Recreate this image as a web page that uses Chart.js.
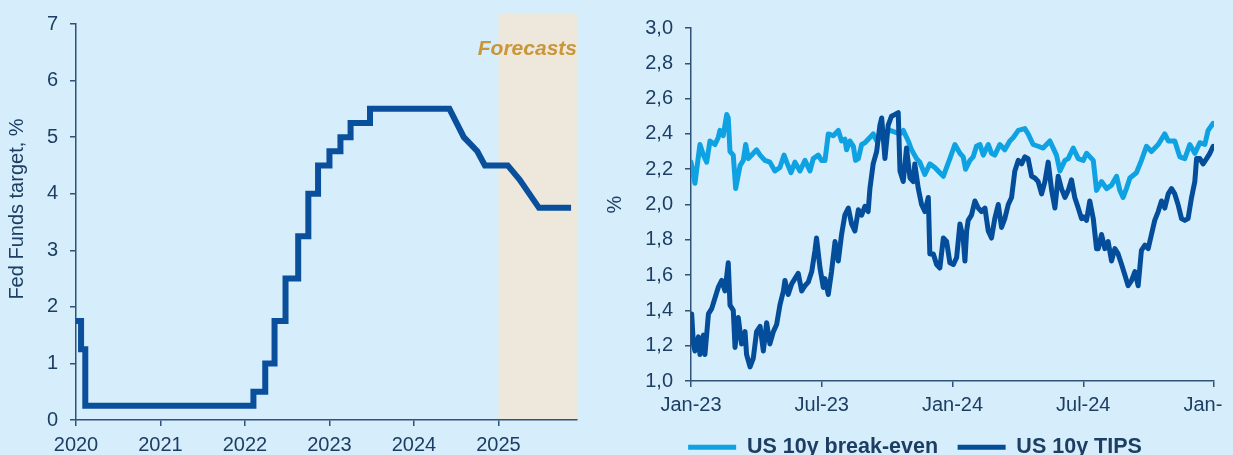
<!DOCTYPE html>
<html>
<head>
<meta charset="utf-8">
<script src="https://cdn.jsdelivr.net/npm/chart.js@4"></script>
<style>
    html, body { margin: 0; padding: 0; background: #d6edfc; overflow: hidden; width: 1233px; height: 455px; }
    #left { position: absolute; left: 0; top: 0; }
    #right { position: absolute; left: 600px; top: 0; }
</style>
</head>
<body>
<canvas id="left" width="600" height="455"></canvas>
<canvas id="right" width="622" height="468"></canvas>
<script>
// left panel: Fed Funds target (upper bound), with forecasts
const fedYears = [2020.0, 2020.06, 2020.06, 2020.11, 2020.11, 2022.10, 2022.10, 2022.24, 2022.24, 2022.35, 2022.35,
    2022.48, 2022.48, 2022.63, 2022.63, 2022.75, 2022.75, 2022.865, 2022.865, 2023.0, 2023.0, 2023.13, 2023.13,
    2023.25, 2023.25, 2023.48, 2023.48, 2024.42, 2024.59, 2024.75, 2024.84, 2025.11, 2025.25, 2025.48, 2025.86];
const fedRate = [1.75, 1.75, 1.25, 1.25, 0.25, 0.25, 0.5, 0.5, 1.0, 1.0, 1.75,
    1.75, 2.5, 2.5, 3.25, 3.25, 4.0, 4.0, 4.5, 4.5, 4.75, 4.75, 5.0,
    5.0, 5.25, 5.25, 5.5, 5.5, 5.0, 4.75, 4.5, 4.5, 4.25, 3.75, 3.75];
const forecastStart = 2025;
const leftYears = [2020, 2025.93];

// right panel: months since Jan-23, with the value read at each one
const breakEvenMonths = [0.00, 0.18, 0.41, 0.57, 0.72, 0.87, 1.10, 1.25, 1.33, 1.48, 1.64, 1.71, 1.79, 1.94, 2.05, 2.25,
    2.40, 2.51, 2.63, 2.86, 3.01, 3.17, 3.39, 3.62, 3.85, 4.08, 4.27, 4.39, 4.59, 4.77, 5.00, 5.23,
    5.46, 5.61, 5.84, 5.99, 6.15, 6.30, 6.53, 6.76, 6.91, 7.06, 7.14, 7.29, 7.45, 7.55, 7.68, 7.83,
    7.98, 8.21, 8.36, 8.52, 8.67, 8.90, 9.13, 9.36, 9.59, 9.74, 9.97, 10.12, 10.35, 10.50, 10.73, 10.96,
    11.19, 11.42, 11.58, 11.73, 11.88, 12.11, 12.34, 12.49, 12.60, 12.80, 12.95, 13.10, 13.26, 13.41, 13.64, 13.79,
    13.94, 14.17, 14.40, 14.63, 14.79, 15.02, 15.32, 15.47, 15.70, 15.93, 16.16, 16.47, 16.77, 16.93, 17.16, 17.31,
    17.54, 17.77, 18.00, 18.15, 18.46, 18.61, 18.84, 19.07, 19.30, 19.53, 19.68, 19.83, 19.98, 20.14, 20.44, 20.67,
    20.90, 21.13, 21.44, 21.74, 21.90, 22.20, 22.43, 22.66, 22.89, 23.12, 23.35, 23.58, 23.73, 23.96];
const breakEven = [2.24, 2.12, 2.34, 2.28, 2.24, 2.36, 2.34, 2.38, 2.42, 2.39, 2.51, 2.49, 2.30, 2.28, 2.09, 2.22,
    2.25, 2.34, 2.26, 2.29, 2.31, 2.28, 2.25, 2.24, 2.19, 2.21, 2.28, 2.24, 2.18, 2.24, 2.19, 2.25,
    2.19, 2.26, 2.28, 2.25, 2.25, 2.40, 2.39, 2.42, 2.36, 2.37, 2.31, 2.36, 2.33, 2.25, 2.26, 2.34,
    2.35, 2.38, 2.40, 2.36, 2.38, 2.41, 2.42, 2.41, 2.40, 2.42, 2.36, 2.31, 2.26, 2.24, 2.17, 2.23,
    2.21, 2.18, 2.16, 2.21, 2.26, 2.34, 2.29, 2.27, 2.20, 2.25, 2.27, 2.33, 2.34, 2.28, 2.34, 2.29,
    2.28, 2.34, 2.31, 2.36, 2.38, 2.42, 2.43, 2.40, 2.34, 2.33, 2.32, 2.36, 2.28, 2.19, 2.25, 2.26,
    2.32, 2.26, 2.25, 2.29, 2.25, 2.08, 2.13, 2.09, 2.11, 2.16, 2.08, 2.04, 2.09, 2.15, 2.18, 2.25,
    2.33, 2.30, 2.34, 2.40, 2.36, 2.36, 2.27, 2.26, 2.34, 2.29, 2.35, 2.34, 2.42, 2.46];
const tipsMonths = [0.03, 0.11, 0.18, 0.34, 0.41, 0.57, 0.64, 0.80, 0.95, 1.10, 1.25, 1.41, 1.56, 1.71, 1.79, 1.94,
    2.02, 2.17, 2.32, 2.48, 2.55, 2.71, 2.86, 3.01, 3.17, 3.32, 3.47, 3.62, 3.78, 3.93, 4.08, 4.24,
    4.31, 4.46, 4.62, 4.77, 4.92, 5.08, 5.23, 5.38, 5.54, 5.69, 5.76, 5.92, 6.07, 6.15, 6.30, 6.45,
    6.61, 6.76, 6.91, 7.06, 7.22, 7.37, 7.52, 7.68, 7.83, 7.98, 8.13, 8.21, 8.36, 8.52, 8.67, 8.75,
    8.90, 9.05, 9.20, 9.36, 9.51, 9.59, 9.74, 9.89, 10.05, 10.20, 10.27, 10.43, 10.58, 10.73, 10.89, 10.96,
    11.12, 11.27, 11.42, 11.58, 11.73, 11.88, 12.04, 12.19, 12.34, 12.49, 12.57, 12.65, 12.72, 12.87, 13.03, 13.18,
    13.33, 13.49, 13.64, 13.79, 13.94, 14.10, 14.25, 14.40, 14.56, 14.71, 14.86, 15.02, 15.17, 15.32, 15.47, 15.63,
    15.78, 15.93, 16.09, 16.24, 16.39, 16.55, 16.70, 16.85, 17.00, 17.16, 17.31, 17.46, 17.61, 17.77, 17.92, 18.00,
    18.15, 18.30, 18.46, 18.61, 18.69, 18.84, 18.99, 19.14, 19.30, 19.45, 19.60, 19.76, 19.91, 20.06, 20.22, 20.37,
    20.52, 20.67, 20.83, 20.98, 21.13, 21.28, 21.44, 21.59, 21.74, 21.90, 22.05, 22.20, 22.35, 22.51, 22.66, 22.81,
    22.97, 23.12, 23.20, 23.35, 23.50, 23.66, 23.81, 23.96];
const tips = [1.38, 1.21, 1.17, 1.25, 1.15, 1.26, 1.15, 1.38, 1.41, 1.47, 1.53, 1.57, 1.51, 1.67, 1.43, 1.40,
    1.19, 1.36, 1.21, 1.28, 1.15, 1.08, 1.13, 1.28, 1.31, 1.17, 1.33, 1.21, 1.28, 1.32, 1.43, 1.51,
    1.57, 1.49, 1.55, 1.58, 1.61, 1.51, 1.54, 1.56, 1.62, 1.74, 1.81, 1.64, 1.53, 1.58, 1.49, 1.62,
    1.79, 1.68, 1.83, 1.94, 1.98, 1.89, 1.85, 1.97, 1.94, 1.99, 1.96, 2.09, 2.23, 2.30, 2.45, 2.49,
    2.26, 2.45, 2.50, 2.51, 2.52, 2.19, 2.13, 2.32, 2.15, 2.13, 2.23, 2.09, 2.00, 1.96, 2.04, 1.72,
    1.72, 1.66, 1.64, 1.81, 1.79, 1.67, 1.66, 1.70, 1.89, 1.81, 1.68, 1.85, 1.91, 1.94, 2.02, 1.98,
    1.96, 1.98, 1.85, 1.81, 1.92, 2.00, 1.87, 1.92, 2.00, 2.04, 2.19, 2.25, 2.23, 2.27, 2.26, 2.16,
    2.15, 2.13, 2.06, 2.13, 2.24, 2.08, 1.98, 2.16, 2.09, 2.04, 2.08, 2.14, 2.04, 1.98, 1.92, 1.93,
    1.91, 2.02, 1.92, 1.75, 1.75, 1.83, 1.75, 1.79, 1.68, 1.75, 1.72, 1.66, 1.60, 1.54, 1.57, 1.62,
    1.54, 1.74, 1.77, 1.75, 1.83, 1.91, 1.96, 2.02, 1.98, 2.06, 2.09, 2.06, 2.00, 1.92, 1.91, 1.92,
    2.04, 2.13, 2.26, 2.26, 2.23, 2.26, 2.29, 2.33];
const rightTickLabels = ['Jan-23', 'Jul-23', 'Jan-24', 'Jul-24', 'Jan-25'];

const textColor = '#1d3e63';
const axisColor = '#2f5278';
const tickFont = { family: 'Liberation Sans, Arial, sans-serif', size: 20 };

window.onload = () => {

    // shaded forecast area and label, drawn under the axes
    const forecastShade = {
        id: 'forecastShade',
        beforeDraw(chart) {
            const { ctx, scales: { x, y } } = chart;
            const x0 = x.getPixelForValue(forecastStart);
            const x1 = x.getPixelForValue(x.max);
            const y0 = y.getPixelForValue(7.18);
            const y1 = y.getPixelForValue(0);
            ctx.save();
            ctx.fillStyle = '#eee8dc';
            ctx.fillRect(x0, y0, x1 - x0, y1 - y0);
            ctx.fillStyle = '#c9963a';
            ctx.font = 'italic bold 21px Liberation Sans, Arial, sans-serif';
            ctx.textAlign = 'right';
            ctx.textBaseline = 'alphabetic';
            ctx.fillText('Forecasts', x1, y.getPixelForValue(6.45));
            ctx.restore();
        }
    };

    // y title of the left panel sits a bit above the middle
    const leftTitle = {
        id: 'leftTitle',
        afterDraw(chart) {
            const { ctx, chartArea } = chart;
            ctx.save();
            ctx.translate(17, (chartArea.top + chartArea.bottom) / 2 - 13);
            ctx.rotate(-Math.PI / 2);
            ctx.fillStyle = textColor;
            ctx.font = '20px Liberation Sans, Arial, sans-serif';
            ctx.textAlign = 'center';
            ctx.textBaseline = 'middle';
            ctx.fillText('Fed Funds target, %', 0, 0);
            ctx.restore();
        }
    };

    // the legend of the right panel sits a little right of centre
    const legendNudge = {
        id: 'legendNudge',
        afterLayout(chart) {
            chart.legend.left += 8;
            chart.legend.right += 8;
        }
    };

    let leftCanvas = document.getElementById('left');
    let fedChart = new Chart(leftCanvas, {
        type: 'line',
        data: {
            datasets: [
                {
                    data: fedYears.map((yr, i) => ({ x: yr, y: fedRate[i] })),
                    borderColor: '#0a4f9c',
                    borderWidth: 6,
                    pointRadius: 0,
                    borderJoinStyle: 'miter',
                    tension: 0,
                }
            ],
        },
        options: {
            responsive: false,
            animation: false,
            layout: { padding: { top: 22, right: 23, bottom: 0, left: 0 } },
            plugins: { legend: { display: false }, tooltip: { enabled: false } },
            scales: {
                x: {
                    type: 'linear',
                    min: leftYears[0],
                    max: leftYears[1],
                    grid: { drawOnChartArea: false, tickLength: 6, color: axisColor, lineWidth: 1.5 },
                    border: { color: axisColor, width: 1.5 },
                    ticks: {
                        stepSize: 1,
                        includeBounds: false,
                        padding: 7,
                        color: textColor,
                        font: tickFont,
                        maxRotation: 0,
                        callback: (v) => String(v),
                    },
                    afterFit: (s) => { s.height = 35; },
                },
                y: {
                    min: 0,
                    max: 7,
                    grid: { drawOnChartArea: false, tickLength: 6, color: axisColor, lineWidth: 1.5 },
                    border: { color: axisColor, width: 1.5 },
                    ticks: { stepSize: 1, padding: 12, color: textColor, font: tickFont },
                    afterFit: (s) => { s.width = 76; },
                },
            },
        },
        plugins: [forecastShade, leftTitle],
    });

    let rightCanvas = document.getElementById('right');
    let yieldChart = new Chart(rightCanvas, {
        type: 'line',
        data: {
            datasets: [
                {
                    label: 'US 10y break-even',
                    data: breakEvenMonths.map((m, i) => ({ x: m, y: breakEven[i] })),
                    borderColor: '#0ea2e3',
                    backgroundColor: '#0ea2e3',
                    borderWidth: 5,
                    pointRadius: 0,
                    borderJoinStyle: 'round',
                    borderCapStyle: 'round',
                    order: 1,
                },
                {
                    label: 'US 10y TIPS',
                    data: tipsMonths.map((m, i) => ({ x: m, y: tips[i] })),
                    borderColor: '#034d9a',
                    backgroundColor: '#034d9a',
                    borderWidth: 5,
                    pointRadius: 0,
                    borderJoinStyle: 'round',
                    borderCapStyle: 'round',
                    order: 0,
                }
            ],
        },
        options: {
            responsive: false,
            animation: false,
            layout: { padding: { top: 28, right: 8, bottom: 0, left: 0 } },
            plugins: {
                tooltip: { enabled: false },
                legend: {
                    position: 'bottom',
                    labels: {
                        usePointStyle: true,
                        pointStyle: 'line',
                        pointStyleWidth: 48,
                        padding: 19.5,
                        color: textColor,
                        font: { family: 'Liberation Sans, Arial, sans-serif', size: 21.5, weight: 'bold' },
                        sort: (a, b) => a.datasetIndex - b.datasetIndex,
                    },
                },
            },
            scales: {
                x: {
                    type: 'linear',
                    min: 0,
                    max: 24,
                    grid: { drawOnChartArea: false, tickLength: 6, color: axisColor, lineWidth: 1.5 },
                    border: { color: axisColor, width: 1.5 },
                    ticks: {
                        stepSize: 6,
                        padding: 6.5,
                        color: textColor,
                        font: tickFont,
                        maxRotation: 0,
                        autoSkip: false,
                        callback: (v) => rightTickLabels[v / 6],
                    },
                    afterFit: (s) => { s.height = 36; s.paddingRight = 0; },
                },
                y: {
                    min: 1,
                    max: 3,
                    title: { display: true, text: '%', color: textColor, font: tickFont, padding: { top: 3, bottom: 0 } },
                    grid: { drawOnChartArea: false, tickLength: 6, color: axisColor, lineWidth: 1.5 },
                    border: { color: axisColor, width: 1.5 },
                    ticks: {
                        stepSize: 0.2,
                        padding: 12,
                        color: textColor,
                        font: tickFont,
                        callback: (v) => v.toFixed(1).replace('.', ','),
                    },
                    afterFit: (s) => { s.width = 91; },
                },
            },
        },
        plugins: [legendNudge],
    });
}
</script>
</body>
</html>
